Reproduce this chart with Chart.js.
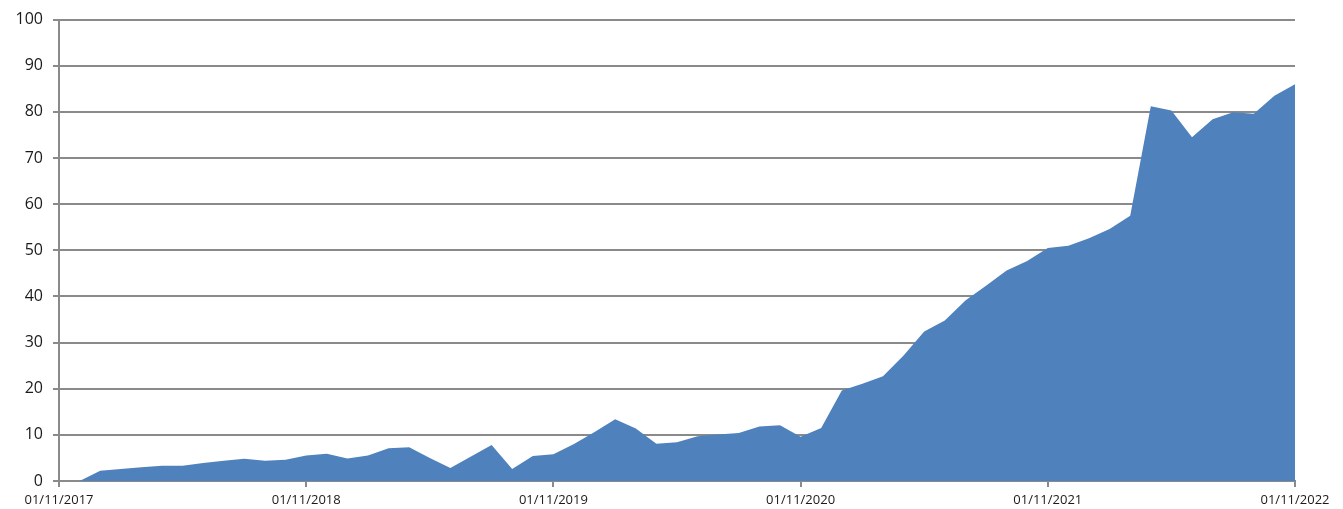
<!DOCTYPE html>
<html>
<head>
<meta charset="utf-8">
<script src="https://cdn.jsdelivr.net/npm/chart.js@4/dist/chart.umd.min.js"></script>
<style>
  body { margin: 0; background: #fff; }
</style>
</head>
<body>
<canvas id="myChart" width="1343" height="509"></canvas>
<script>
// monthly points, 01/11/2017 .. 01/11/2022
const months = [];
for (let i = 0; i <= 60; i++) {
	let m = (10 + i) % 12 + 1;
	let y = 2017 + Math.floor((10 + i) / 12);
	months.push('01/' + (m < 10 ? '0' + m : m) + '/' + y);
}

const values = [
	0, 0, 2.2, 2.6, 3.0, 3.3, 3.3, 3.9, 4.4, 4.8, 4.4, 4.6,
	5.5, 5.9, 4.9, 5.5, 7.1, 7.3, 5.0, 2.8, 5.3, 7.8, 2.6, 5.4,
	5.8, 8.0, 10.6, 13.4, 11.4, 8.1, 8.4, 9.7, 10.1, 10.4, 11.8, 12.1,
	9.6, 11.5, 19.6, 21.1, 22.7, 27.2, 32.4, 34.8, 39.1, 42.3, 45.6, 47.7,
	50.5, 51.0, 52.6, 54.6, 57.5, 81.2, 80.3, 74.5, 78.4, 79.9, 79.6, 83.5,
	86.0
];

const yTicks = [0, 10, 20, 30, 40, 50, 60, 70, 80, 90, 100];

const grey = '#8a8a8a';

let ctx = document.getElementById('myChart').getContext('2d');

let chart = new Chart(ctx, {
	type: 'line',
	data: {
		labels: months,
		datasets: [{
			data: values,
			fill: 'origin',
			backgroundColor: '#4f81bd',
			borderColor: '#4f81bd',
			borderWidth: 0,
			pointRadius: 0,
			tension: 0
		}]
	},
	options: {
		responsive: false,
		animation: false,
		layout: { padding: { left: 0, right: 48, top: 18, bottom: 0 } },
		plugins: { legend: { display: false }, tooltip: { enabled: false } },
		scales: {
			x: {
				offset: false,
				border: { color: grey, width: 2 },
				grid: { drawOnChartArea: false, drawTicks: true, tickLength: 6, color: grey, lineWidth: 2 },
				ticks: {
					autoSkip: false,
					maxRotation: 0,
					padding: 5,
					color: '#1a1a1a',
					font: { family: 'Open Sans', size: 13 },
					callback: function(val, i) {
						return i % 12 === 0 ? months[i] : null;
					}
				},
				afterFit: function(scale) { scale.height = 28; }
			},
			y: {
				min: 0,
				max: 100,
				border: { color: grey, width: 2 },
				grid: { color: grey, lineWidth: 2, tickLength: 6 },
				afterBuildTicks: function(scale) {
					scale.ticks = yTicks.map(v => ({ value: v }));
				},
				ticks: {
					padding: 10,
					color: '#1a1a1a',
					font: { family: 'Open Sans', size: 16 },
					callback: function(val) { return val; }
				},
				afterFit: function(scale) { scale.width = 59; }
			}
		}
	}
});
</script>
</body>
</html>
